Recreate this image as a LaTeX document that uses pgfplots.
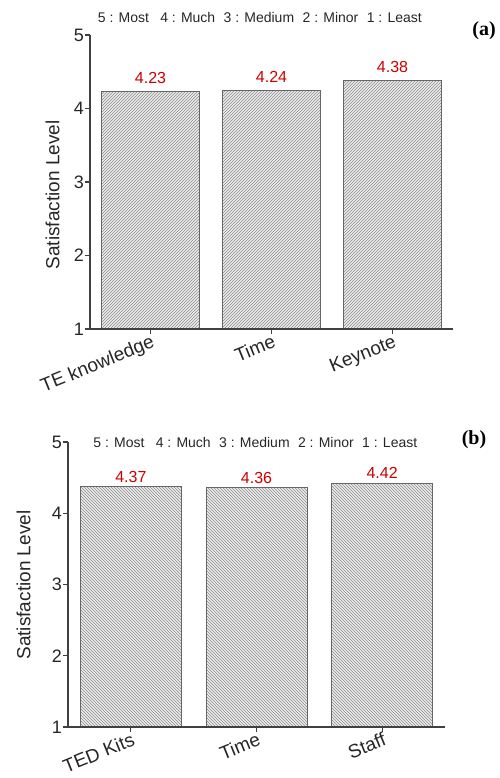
\documentclass[border=0pt]{standalone}
\usepackage{fontspec}
\setmainfont{Liberation Sans}
\newfontfamily\serifb{Liberation Serif}
\usepackage{pgfplots}
\pgfplotsset{compat=1.18}
\usetikzlibrary{patterns}

\pgfplotsset{
  /pgf/number format/assume math mode=true,
  sat/.style={
    scale only axis,
    anchor=south west,
    clip mode=individual,
    ybar, bar shift=0pt,
    ymin=1, ymax=5, ytick={1,2,3,4,5},
    xmin=-0.5, xmax=2.5, xtick={0,1,2},
    axis x line*=bottom, axis y line*=left,
    axis line style={draw=black!75, line width=1.3pt},
    tick style={draw=black!75, line width=1.3pt},
    tick align=outside, major tick length=5pt,
    axis on top,
    ticklabel style={font=\fontsize{18}{20}\selectfont, text=black!85},
    yticklabel style={inner sep=1pt},
    xticklabel style={rotate=22, anchor=north east, inner sep=0pt, font=\fontsize{19}{21}\selectfont},
    ylabel={Satisfaction Level},
    label style={font=\fontsize{19}{21}\selectfont, text=black!85},
    nodes near coords={\pgfmathprintnumber[fixed,precision=2,fixed zerofill]{\pgfplotspointmeta}},
    every node near coord/.append style={font=\fontsize{16}{18}\selectfont, text=red!80!black, anchor=center},
  }
}

\begin{document}
\begin{tikzpicture}
\useasboundingbox (0,0) rectangle (499pt,778pt);
% Panel (a)
\begin{axis}[sat, at={(90pt,449pt)}, width=363pt, height=294pt, bar width=98pt,
  xticklabels={TE knowledge, Time, Keynote},
  ylabel style={at={(axis description cs:-0.103,0.456)}, anchor=center},
  every node near coord/.append style={yshift=13.5pt}]
\addplot[draw=black!60, line width=1pt, fill=gray!15,
  postaction={pattern=north east lines, pattern color=black!45}]
  coordinates {(0,4.23) (1,4.24) (2,4.38)};
\node[font=\fontsize{14}{16}\selectfont, text=black!85] at (axis description cs:0.468,1.061)
  {5 : Most\hspace{0.8em}4 : Much\hspace{0.6em}3 : Medium\hspace{0.6em}2 : Minor\hspace{0.6em}1 : Least};
\end{axis}
\node[font=\serifb\bfseries\fontsize{20}{22}\selectfont] at (484pt,747pt) {(a)};
% Panel (b)
\begin{axis}[sat, at={(68pt,51pt)}, width=377pt, height=285pt, bar width=101pt,
  xticklabels={TED Kits, Time, Staff},
  ylabel style={at={(axis description cs:-0.118,0.498)}, anchor=center},
  every node near coord/.append style={yshift=10pt}]
\addplot[draw=black!60, line width=1pt, fill=gray!15,
  postaction={pattern=north west lines, pattern color=black!45}]
  coordinates {(0,4.37) (1,4.36) (2,4.42)};
\node[font=\fontsize{14}{16}\selectfont, text=black!85] at (axis description cs:0.497,1.0)
  {5 : Most\hspace{0.8em}4 : Much\hspace{0.6em}3 : Medium\hspace{0.6em}2 : Minor\hspace{0.6em}1 : Least};
\end{axis}
\node[font=\serifb\bfseries\fontsize{20}{22}\selectfont] at (474pt,338pt) {(b)};
\end{tikzpicture}
\end{document}
